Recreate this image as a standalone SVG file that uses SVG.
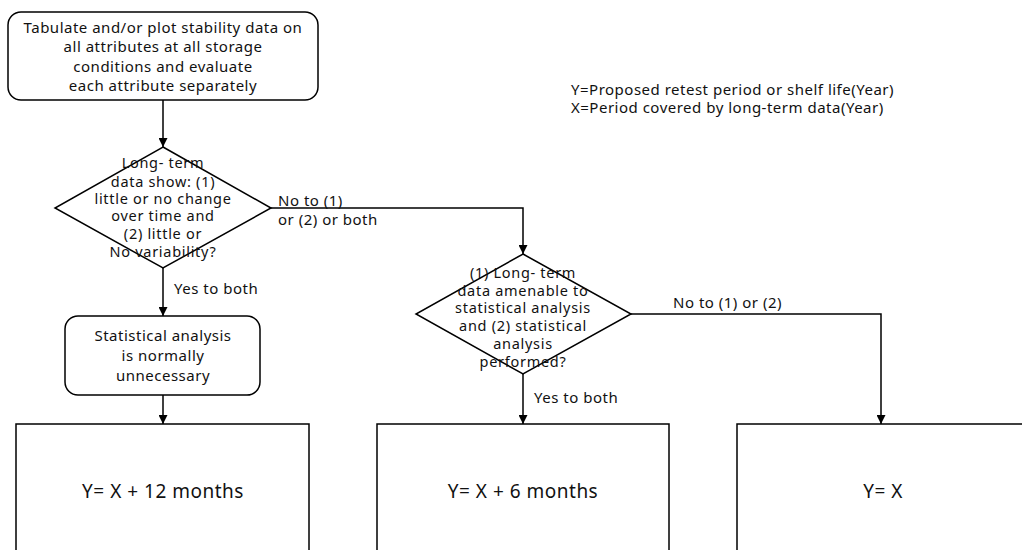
<svg xmlns="http://www.w3.org/2000/svg" width="1022" height="550" viewBox="0 0 1022 550">
<style>
.n{fill:#fff;stroke:#000;stroke-width:1.5}
.c{fill:none;stroke:#000;stroke-width:1.5}
text{font-family:"Noto Sans","Liberation Sans",sans-serif;font-size:15px;fill:#111;letter-spacing:0.5px}
.m{text-anchor:middle}
.d{font-size:14.5px;letter-spacing:0.7px}
.big{font-size:19px}
</style>
<defs>
<marker id="a" viewBox="0 0 10 10" refX="10" refY="5" markerWidth="9" markerHeight="9" markerUnits="userSpaceOnUse" orient="auto">
<path d="M0,0 L10,5 L0,10 z" fill="#000"/>
</marker>
</defs>
<rect width="1022" height="550" fill="#fff"/>
<g id="connectors">
<line class="c" x1="163" y1="100" x2="163" y2="147" marker-end="url(#a)"/>
<line class="c" x1="163" y1="268" x2="163" y2="316" marker-end="url(#a)"/>
<line class="c" x1="163" y1="395" x2="163" y2="424" marker-end="url(#a)"/>
<polyline class="c" points="271,208 523,208 523,254" marker-end="url(#a)"/>
<line class="c" x1="523" y1="374" x2="523" y2="424" marker-end="url(#a)"/>
<polyline class="c" points="631,314 881,314 881,424" marker-end="url(#a)"/>
<text x="278" y="206">No to (1)</text>
<text x="278" y="225">or (2) or both</text>
<text x="174" y="294">Yes to both</text>
<text x="534" y="403">Yes to both</text>
<text x="673" y="308">No to (1) or (2)</text>
</g>
<g id="start">
<rect class="n" x="8" y="12" width="310" height="88" rx="13"/>
<text class="m" x="163" y="33">Tabulate and/or plot stability data on</text>
<text class="m" x="163" y="52">all attributes at all storage</text>
<text class="m" x="163" y="72">conditions and evaluate</text>
<text class="m" x="163" y="91">each attribute separately</text>
</g>
<g id="legend">
<text x="571" y="95">Y=Proposed retest period or shelf life(Year)</text>
<text x="571" y="113">X=Period covered by long-term data(Year)</text>
</g>
<g id="decision1">
<polygon class="n" points="163,147 271,208 163,268 55,208"/>
<text class="m d" x="163" y="168">Long- term</text>
<text class="m d" x="163" y="187">data show: (1)</text>
<text class="m d" x="163" y="204">little or no change</text>
<text class="m d" x="163" y="221">over time and</text>
<text class="m d" x="163" y="239">(2) little or</text>
<text class="m d" x="163" y="257">No variability?</text>
</g>
<g id="unnecessary">
<rect class="n" x="65" y="316" width="195" height="79" rx="13"/>
<text class="m" x="163" y="341">Statistical analysis</text>
<text class="m" x="163" y="361">is normally</text>
<text class="m" x="163" y="381">unnecessary</text>
</g>
<g id="decision2">
<polygon class="n" points="523,254 631,314 523,374 416,314"/>
<text class="m d" x="523" y="278">(1) Long- term</text>
<text class="m d" x="523" y="296">data amenable to</text>
<text class="m d" x="523" y="313">statistical analysis</text>
<text class="m d" x="523" y="331">and (2) statistical</text>
<text class="m d" x="523" y="349">analysis</text>
<text class="m d" x="523" y="367">performed?</text>
</g>
<g id="result12">
<rect class="n" x="16" y="424" width="293" height="140"/>
<text class="m big" x="163" y="498">Y= X + 12 months</text>
</g>
<g id="result6">
<rect class="n" x="377" y="424" width="292" height="140"/>
<text class="m big" x="523" y="498">Y= X + 6 months</text>
</g>
<g id="result0">
<rect class="n" x="737" y="424" width="300" height="140"/>
<text class="m big" x="883" y="498">Y= X</text>
</g>
</svg>
